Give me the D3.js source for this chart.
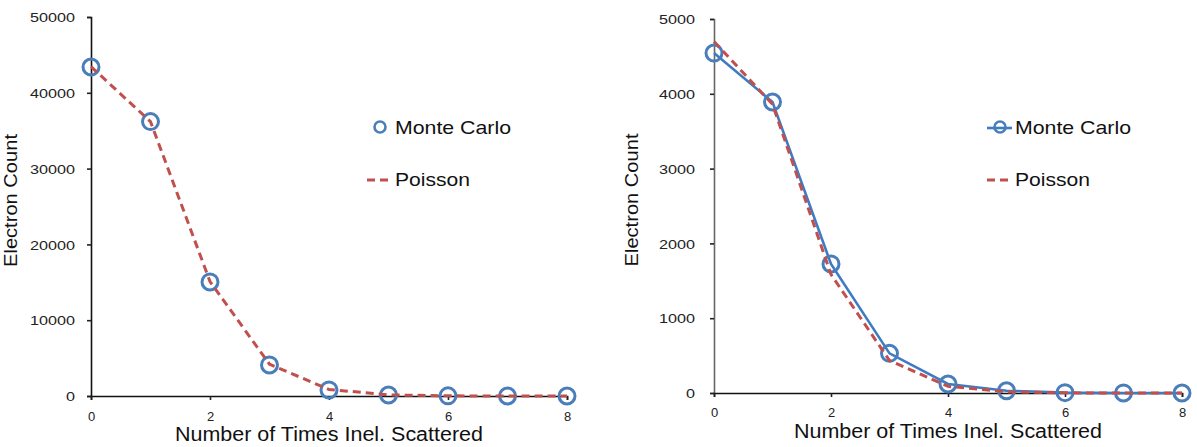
<!DOCTYPE html>
<html>
<head>
<meta charset="utf-8">
<script src="https://cdn.jsdelivr.net/npm/d3@7"></script>
<style>
  body { margin: 0; background: #fff; }
  text { font-family: "Liberation Sans", Arial, sans-serif; }
</style>
</head>
<body>
<script>
// Number of inelastic scattering events vs electron count, two runs

const w = 1197;
const h = 447;

const scatterCounts = [0, 1, 2, 3, 4, 5, 6, 7, 8];
const xTicks = [0, 2, 4, 6, 8];

// left panel
const monteCarloA = [43400, 36200, 15050, 4100, 800, 130, 20, 2, 0];
const poissonA = [43450, 36200, 15100, 4190, 870, 145, 20, 2, 0];
const yTicksA = [0, 10000, 20000, 30000, 40000, 50000];

// right panel
const monteCarloB = [4545, 3890, 1725, 530, 120, 30, 5, 1, 0];
const poissonB = [4700, 3860, 1585, 434, 89, 15, 2, 0, 0];
const yTicksB = [0, 1000, 2000, 3000, 4000, 5000];

const blue = "#4a7ebb";
const blueLine = "#3d7cc4";
const red = "#c0504d";

const svg = d3.select("body")
  .append("svg")
  .attr("width", w)
  .attr("height", h);

function panel(opt) {
  const x_scale = d3.scaleLinear().domain([0, 8]).range([opt.x0, opt.x1]);
  const y_scale = d3.scaleLinear().domain([0, opt.yMax]).range([opt.y0, opt.y1]);

  const g = svg.append("g");

  // axes
  const y_axis = d3.axisLeft(y_scale).tickValues(opt.yTicks).tickSize(4).tickFormat(d3.format("d"));
  const x_axis = d3.axisBottom(x_scale).tickValues(xTicks).tickSize(4).tickFormat(d3.format("d"));

  const ya = g.append("g")
    .attr("transform", `translate(${opt.x0},0)`)
    .call(y_axis);
  ya.select(".domain").attr("stroke", opt.yAxisColor).attr("stroke-width", 1.6);
  ya.selectAll(".tick line").attr("stroke", "#222").attr("stroke-width", 1.6);
  ya.selectAll(".tick text")
    .attr("x", -opt.labelGap)
    .attr("dy", "0.36em")
    .attr("fill", "#222")
    .style("font-size", "13px")
    .attr("textLength", d => String(d).length * 9)
    .attr("lengthAdjust", "spacingAndGlyphs");

  const xa = g.append("g")
    .attr("transform", `translate(0,${opt.y0})`)
    .call(x_axis);
  xa.select(".domain").attr("stroke", "#111").attr("stroke-width", 1.6);
  xa.selectAll(".tick line").attr("stroke", "#222").attr("stroke-width", 1.6);
  xa.selectAll(".tick text")
    .attr("y", opt.xLabelY)
    .attr("dy", 0)
    .attr("fill", "#222")
    .style("font-size", "13px");

  // axis titles
  g.append("text")
    .attr("transform", `translate(${opt.yTitleX},${(opt.y0 + opt.y1) / 2 - 6}) rotate(-90)`)
    .attr("text-anchor", "middle")
    .style("font-size", "17.5px")
    .attr("fill", "#111")
    .attr("textLength", 133)
    .attr("lengthAdjust", "spacingAndGlyphs")
    .text("Electron Count");

  g.append("text")
    .attr("x", x_scale(4))
    .attr("y", opt.xTitleY)
    .attr("text-anchor", "middle")
    .style("font-size", "19.5px")
    .attr("fill", "#111")
    .attr("textLength", 308)
    .attr("lengthAdjust", "spacingAndGlyphs")
    .text("Number of Times Inel. Scattered");

  const mc = scatterCounts.map((c, i) => [c, opt.mc[i]]);
  const ps = scatterCounts.map((c, i) => [c, opt.ps[i]]);
  const line = d3.line().x(d => x_scale(d[0])).y(d => y_scale(d[1]));

  if (opt.mcLine) {
    g.append("path")
      .datum(mc)
      .attr("d", line)
      .attr("fill", "none")
      .attr("stroke", blueLine)
      .attr("stroke-width", 2.6);
  }

  g.selectAll("circle.mc")
    .data(mc)
    .enter()
    .append("circle")
    .attr("class", "mc")
    .attr("cx", d => x_scale(d[0]))
    .attr("cy", d => y_scale(d[1]))
    .attr("r", 8)
    .attr("fill", "none")
    .attr("stroke", blue)
    .attr("stroke-width", 3);

  g.append("path")
    .datum(ps)
    .attr("d", line)
    .attr("fill", "none")
    .attr("stroke", red)
    .attr("stroke-width", 3)
    .attr("stroke-dasharray", "8,5");

  // legend
  const lg = g.append("g").attr("transform", `translate(${opt.legX},0)`);
  if (opt.mcLine) {
    lg.append("line")
      .attr("x1", -13).attr("x2", 12).attr("y1", 128).attr("y2", 128)
      .attr("stroke", blueLine).attr("stroke-width", 2.6);
  }
  lg.append("circle")
    .attr("cx", 0).attr("cy", 127).attr("r", 5.5)
    .attr("fill", "none").attr("stroke", blue).attr("stroke-width", 2.6);
  lg.append("text")
    .attr("x", 15).attr("y", 134)
    .style("font-size", "19px").attr("fill", "#111")
    .attr("textLength", 116).attr("lengthAdjust", "spacingAndGlyphs")
    .text("Monte Carlo");

  lg.append("line")
    .attr("x1", -13).attr("x2", 13).attr("y1", 180).attr("y2", 180)
    .attr("stroke", red).attr("stroke-width", 3)
    .attr("stroke-dasharray", "8,5");
  lg.append("text")
    .attr("x", 15).attr("y", 186)
    .style("font-size", "19px").attr("fill", "#111")
    .attr("textLength", 75).attr("lengthAdjust", "spacingAndGlyphs")
    .text("Poisson");
}

panel({
  x0: 91, x1: 567, y0: 396, y1: 17, yMax: 50000,
  yTicks: yTicksA, mc: monteCarloA, ps: poissonA, mcLine: false,
  labelGap: 16, xLabelY: 25, yTitleX: 16.5, xTitleY: 441,
  legX: 380, yAxisColor: "#111"
});

panel({
  x0: 714, x1: 1182, y0: 393, y1: 19, yMax: 5000,
  yTicks: yTicksB, mc: monteCarloB, ps: poissonB, mcLine: true,
  labelGap: 19, xLabelY: 24, yTitleX: 638, xTitleY: 438,
  legX: 1000, yAxisColor: "#666"
});
</script>
</body>
</html>
